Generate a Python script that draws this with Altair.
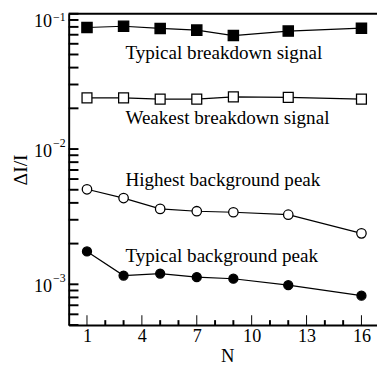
import altair as alt
import pandas as pd

# ---- data ----
N = [1, 3, 5, 7, 9, 12, 16]
typical_breakdown = [0.0792, 0.0809, 0.0779, 0.0757, 0.0690, 0.0745, 0.0783]
weakest_breakdown = [0.0239, 0.0239, 0.0234, 0.0234, 0.0243, 0.0241, 0.0234]
highest_background = [0.00504, 0.00434, 0.00361, 0.00347, 0.00341, 0.00327, 0.00238]
typical_background = [0.00175, 0.00116, 0.00120, 0.00113, 0.00110, 0.000985, 0.000824]

series_names = ["Typical breakdown signal", "Weakest breakdown signal",
                "Highest background peak", "Typical background peak"]
series_values = [typical_breakdown, weakest_breakdown, highest_background, typical_background]
marker_shapes = ["square", "square", "circle", "circle"]
marker_fills = ["black", "white", "white", "black"]
marker_sizes = [110, 85, 65, 65]

label_x = [3.1, 3.1, 3.1, 3.1]
label_y = [0.0514, 0.01682, 0.00589, 0.001605]

x_major = [1, 4, 7, 10, 13, 16]
x_minor = [2, 3, 5, 6, 8, 9, 11, 12, 14, 15]
y_ticks = [5e-4, 6e-4, 7e-4, 8e-4, 9e-4,
           1e-3, 2e-3, 3e-3, 4e-3, 5e-3, 6e-3, 7e-3, 8e-3, 9e-3,
           1e-2, 2e-2, 3e-2, 4e-2, 5e-2, 6e-2, 7e-2, 8e-2, 9e-2, 1e-1]
y_label_vals = [1e-3, 1e-2, 1e-1]
y_label_exp = ["\u22123", "\u22122", "\u22121"]

W, H = 315, 318
FONT = "Liberation Serif"

rows = []
for name, vals in zip(series_names, series_values):
    for n, v in zip(N, vals):
        rows.append({"series": name, "N": n, "v": v})
df = pd.DataFrame(rows)

xscale = alt.Scale(domain=[0, 16.85], nice=False, zero=False)
yscale = alt.Scale(type="log", domain=[5e-4, 0.1], nice=False)

X = alt.X("N:Q", scale=xscale)
Y = alt.Y("v:Q", scale=yscale)

lines = alt.Chart(df).mark_line(color="black", strokeWidth=1.2).encode(
    x=alt.X("N:Q", scale=xscale,
            axis=alt.Axis(values=x_major, ticks=False, grid=False, domainWidth=2,
                          domainColor="black", labelFontSize=18.5, labelFont=FONT,
                          labelColor="black", labelPadding=2, labelFlush=False,
                          title="N", titleFont=FONT, titleFontSize=19,
                          titleFontWeight="normal", titleColor="black",
                          titleX=162, titleY=37, titleBaseline="alphabetic")),
    y=alt.Y("v:Q", scale=yscale,
            axis=alt.Axis(labels=False, ticks=False, grid=False, domainWidth=2,
                          domainColor="black", title="\u0394I/I", titleFont=FONT,
                          titleFontSize=20, titleFontWeight="normal",
                          titleColor="black", titleX=-49, titleY=159,
                          titleAlign="center", titleBaseline="middle")),
    detail="series:N",
)

points = alt.Chart(df).mark_point(filled=True, opacity=1, strokeWidth=1.3).encode(
    x=X, y=Y,
    shape=alt.Shape("series:N", scale=alt.Scale(domain=series_names, range=marker_shapes), legend=None),
    fill=alt.Fill("series:N", scale=alt.Scale(domain=series_names, range=marker_fills), legend=None),
    size=alt.Size("series:N", scale=alt.Scale(domain=series_names, range=marker_sizes), legend=None),
    stroke=alt.value("black"),
)

ann_df = pd.DataFrame({"text": series_names, "N": label_x, "v": label_y})
annotations = alt.Chart(ann_df).mark_text(
    align="left", baseline="middle", font=FONT, fontSize=19.5, color="black"
).encode(x=X, y=Y, text="text:N")

yt_df = pd.DataFrame({"v": y_ticks})
y_tick_rules = alt.Chart(yt_df).mark_rule(color="black", strokeWidth=2).encode(
    y=Y, x=alt.value(0), x2=alt.value(10),
)

xmaj_df = pd.DataFrame({"N": x_major})
x_major_rules = alt.Chart(xmaj_df).mark_rule(color="black", strokeWidth=1).encode(
    x=X, y=alt.value(H), y2=alt.value(H - 10),
)
xmin_df = pd.DataFrame({"N": x_minor})
x_minor_rules = alt.Chart(xmin_df).mark_rule(color="black", strokeWidth=2).encode(
    x=X, y=alt.value(H), y2=alt.value(H - 5),
)

top_line = alt.Chart(pd.DataFrame({"a": [0]})).mark_rule(color="black", strokeWidth=2).encode(
    x=alt.value(0), x2=alt.value(W), y=alt.value(0),
)

yl_df = pd.DataFrame({"v": y_label_vals, "exp": y_label_exp, "base": ["10"] * 3})
inner = alt.datum.v < 0.05
outer = alt.datum.v >= 0.05
y_base_labels = alt.Chart(yl_df).mark_text(
    align="right", baseline="middle", font=FONT, fontSize=18.5, color="black", dy=2
).encode(y=Y, x=alt.value(-17), text="base:N").transform_filter(inner)
y_exp_labels = alt.Chart(yl_df).mark_text(
    align="left", baseline="middle", font=FONT, fontSize=12, color="black", dy=-6
).encode(y=Y, x=alt.value(-16), text="exp:N").transform_filter(inner)
y_base_top = alt.Chart(yl_df).mark_text(
    align="right", baseline="middle", font=FONT, fontSize=18.5, color="black", dy=7
).encode(y=Y, x=alt.value(-17), text="base:N").transform_filter(outer)
y_exp_top = alt.Chart(yl_df).mark_text(
    align="left", baseline="middle", font=FONT, fontSize=12, color="black", dy=3
).encode(y=Y, x=alt.value(-16), text="exp:N").transform_filter(outer)

chart = alt.layer(
    lines, points, annotations, y_tick_rules, x_major_rules, x_minor_rules,
    top_line, y_base_labels, y_exp_labels, y_base_top, y_exp_top
).properties(
    width=W, height=H,
    autosize=alt.AutoSizeParams(type="none"),
    padding={"left": 62, "top": 2, "right": 0, "bottom": 40},
).configure_view(stroke=None)

chart.save("out.html", embed_options={"renderer": "svg", "actions": False})
